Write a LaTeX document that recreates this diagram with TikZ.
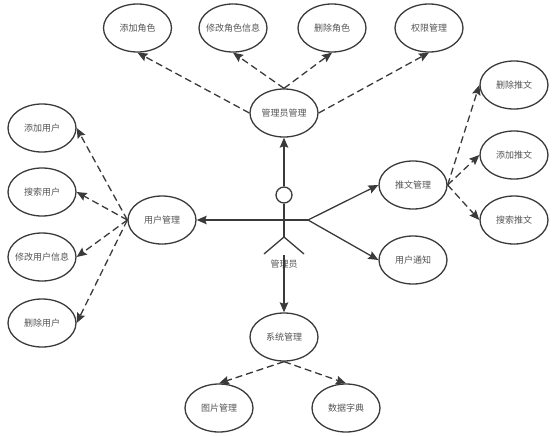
\documentclass[tikz,border=0pt]{standalone}
\usepackage{fontspec}
\setmainfont{Noto Sans CJK SC}
\usepackage{tikz}
\usetikzlibrary{shapes.geometric, arrows.meta}
\usepackage{xcolor}
\definecolor{linecolor}{HTML}{3A3A3A}
\definecolor{textcolor}{HTML}{555555}

\begin{document}
\begin{tikzpicture}[
    x=1pt, y=-1pt,
    usecase/.style={ellipse, draw=linecolor, line width=1.3pt, fill=white, minimum width=68pt, minimum height=48pt, inner xsep=-4pt, inner ysep=0pt, text=textcolor, font=\fontsize{9}{11}\selectfont},
    limb/.style={draw=linecolor, line width=1.3pt},
    arrow/.style={-{Stealth[length=10pt, width=8.5pt, inset=1.5pt]}, draw=linecolor, line width=1.3pt},
    dasharrow/.style={arrow, dash pattern=on 7pt off 4pt},
]
\useasboundingbox (0,0) rectangle (554,436);

% Admin branch
\node[usecase] (admin) at (284,113) {管理员管理};
\node[usecase] (addrole) at (137.5,28) {添加角色};
\node[usecase] (editrole) at (233,28) {修改角色信息};
\node[usecase] (delrole) at (332,28) {删除角色};
\node[usecase] (perm) at (429,28) {权限管理};

% User branch
\node[usecase] (user) at (162,220) {用户管理};
\node[usecase] (adduser) at (42,128) {添加用户};
\node[usecase] (finduser) at (42,192) {搜索用户};
\node[usecase] (edituser) at (42,257) {修改用户信息};
\node[usecase] (deluser) at (42,323) {删除用户};

% Post branch
\node[usecase] (post) at (413,185) {推文管理};
\node[usecase] (delpost) at (514,85) {删除推文};
\node[usecase] (addpost) at (514,155) {添加推文};
\node[usecase] (findpost) at (514,220) {搜索推文};
\node[usecase] (notice) at (413,260) {用户通知};

% System branch
\node[usecase] (sys) at (284,337) {系统管理};
\node[usecase] (pic) at (219,408) {图片管理};
\node[usecase] (dict) at (346,408) {数据字典};

% Actor
\node[circle, draw=linecolor, line width=1.3pt, minimum size=16pt, inner sep=0pt] (head) at (284,195) {};
\coordinate (armL) at (260,220);
\coordinate (armR) at (308,220);
\coordinate (hip) at (284,237);
\coordinate (legL) at (264,254);
\coordinate (legR) at (304,254);
\coordinate (foot) at (284,255);
\node[text=textcolor, font=\fontsize{9}{11}\selectfont, inner sep=0pt] (actor) at (284,264.5) {管理员};
\draw[limb] (head.south) -- (hip);
\draw[limb] (armL) -- (armR);
\draw[limb] (legL) -- (hip) -- (legR);

% Solid arrows from the actor
\draw[arrow] (head.north) -- (admin.south);
\draw[arrow] (armL) -- (user.east);
\draw[arrow] (armR) -- (post.west);
\draw[arrow] (armR) -- (notice.west);
\draw[arrow] (foot) -- (sys.north);

% Dashed arrows
\draw[dasharrow] (admin.west) -- (addrole.south);
\draw[dasharrow] (admin.north) -- (editrole.south);
\draw[dasharrow] (admin.north) -- (delrole.south);
\draw[dasharrow] (admin.east) -- (perm.south);

\draw[dasharrow] (user.west) -- (adduser.east);
\draw[dasharrow] (user.west) -- (finduser.east);
\draw[dasharrow] (user.west) -- (edituser.east);
\draw[dasharrow] (user.west) -- (deluser.east);

\draw[dasharrow] (post.east) -- (delpost.west);
\draw[dasharrow] (post.east) -- (addpost.west);
\draw[dasharrow] (post.east) -- (findpost.west);

\draw[dasharrow] (sys.south) -- (pic.north);
\draw[dasharrow] (sys.south) -- (dict.north);

\end{tikzpicture}
\end{document}
